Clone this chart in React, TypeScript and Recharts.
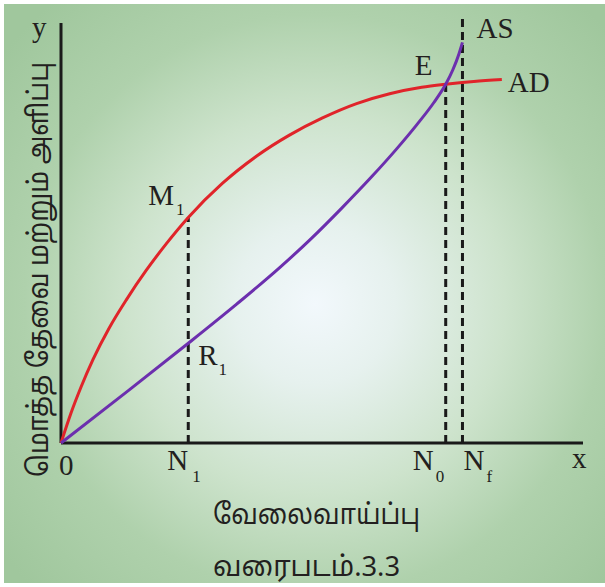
import React from "react";
import { ComposedChart, Line, XAxis, YAxis, ReferenceLine, ReferenceDot } from "recharts";

// Aggregate demand (AD) curve: employment (x) vs value (y)
const adX = [0, 1.92, 3.84, 6.14, 9.21, 12.48, 16.31, 20.15, 24.38, 30.9, 37.43, 43.76, 50.1, 56.62, 62.96, 69.1, 73.7, 79.08, 84.45];
const adY = [0, 7.14, 13.33, 19.9, 27.33, 34.02, 41.07, 47.4, 53.69, 61.79, 68.26, 73.29, 77.38, 80.79, 83.14, 84.67, 85.4, 86.07, 86.55];
// Aggregate supply (AS) curve
const asX = [0, 12.28, 24.38, 33.59, 41.84, 47.98, 53.74, 59.5, 64.3, 68.14, 71.4, 73.7, 75.05, 76.2, 76.91];
const asY = [0, 11.88, 23.74, 33.0, 41.69, 48.71, 55.86, 63.36, 70.02, 75.74, 81.0, 85.4, 88.79, 92.5, 95.36];

// Key employment levels and heights
const N1 = 24.38;
const N0 = 73.7;
const Nf = 76.91;
const M1y = 53.69;
const R1y = 23.74;
const Ey = 85.4;
const NfTop = 101.9;
const axisMax = 100;

const tickValues = [0, N1, N0, Nf];
const tickMain = ["0", "N", "N", "N"];
const tickSub = ["", "1", "0", "f"];

const adData = adX.map((x, i) => ({ x, y: adY[i] }));
const asData = asX.map((x, i) => ({ x, y: asY[i] }));

const SERIF = "'Liberation Serif', 'Times New Roman', serif";
const TAMIL = "'Noto Sans Tamil', 'Noto Sans', 'DejaVu Sans', sans-serif";
const INK = "#231f20";
const RED = "#e0242a";
const PURPLE = "#6c2fae";

const tickOffsets = [
  { dx: -2, sub: 0 },
  { dx: -21, sub: 25 },
  { dx: -33, sub: 23 },
  { dx: 1, sub: 23 },
];

const Tick = (props: any) => {
  const { x, y, index } = props;
  const o = tickOffsets[index] || { dx: 0, sub: 22 };
  const main = tickMain[index];
  const sub = tickSub[index];
  const base = main === "0" ? 32 : 27;
  return (
    <g>
      <text x={x + o.dx} y={y + base} fontFamily={SERIF} fontSize={29} fill={INK}>
        {main}
      </text>
      {sub ? (
        <text x={x + o.dx + o.sub} y={y + base + 12} fontFamily={SERIF} fontSize={17} fill={INK}>
          {sub}
        </text>
      ) : null}
    </g>
  );
};

const makeLabel = (main: string, sub: string, dx: number, dy: number, subDx = 2) => (props: any) => {
  const { cx, cy } = props;
  return (
    <text x={cx + dx} y={cy + dy} fontFamily={SERIF} fontSize={29} fill={INK}>
      {main}
      {sub ? (
        <tspan fontSize={17} dx={subDx} dy={10}>
          {sub}
        </tspan>
      ) : null}
    </text>
  );
};

export default function App() {
  return (
    <div style={{ position: "absolute", left: 0, top: 0, width: 605, height: 587, background: "#ffffff" }}>
      <div
        style={{
          position: "absolute",
          left: 4,
          top: 4,
          width: 601,
          height: 579,
          background:
            "radial-gradient(circle 430px at 311px 300px, #f2f8fc 0px, #e6f1ee 80px, #cde3cc 190px, #afd1ac 290px, #a0c79d 400px)",
        }}
      />
      <div style={{ position: "absolute", left: 0, top: 0 }}>
        <ComposedChart width={605} height={587} margin={{ top: 12, right: 22, left: 61, bottom: 104 }}>
          <XAxis
            type="number"
            dataKey="x"
            domain={[0, 100]}
            ticks={tickValues}
            interval={0}
            height={40}
            axisLine={false}
            tickLine={false}
            tickSize={0}
            tickMargin={0}
            tick={<Tick />}
          />
          <YAxis type="number" dataKey="y" domain={[0, 102.6]} hide />
          <ReferenceLine segment={[{ x: 0, y: 0 }, { x: 100, y: 0 }]} stroke="#1a1a1a" strokeWidth={3} />
          <ReferenceLine segment={[{ x: 0, y: 0 }, { x: 0, y: axisMax }]} stroke="#1a1a1a" strokeWidth={3} />
          <ReferenceLine segment={[{ x: N1, y: 0 }, { x: N1, y: M1y }]} stroke="#1a1a1a" strokeWidth={3} strokeDasharray="8 5" />
          <ReferenceLine segment={[{ x: N0, y: 0 }, { x: N0, y: Ey }]} stroke="#1a1a1a" strokeWidth={3} strokeDasharray="8 5" />
          <ReferenceLine segment={[{ x: Nf, y: 0 }, { x: Nf, y: NfTop }]} stroke="#1a1a1a" strokeWidth={3} strokeDasharray="8 5" />
          <Line data={adData} dataKey="y" type="monotone" stroke={RED} strokeWidth={3} dot={false} isAnimationActive={false} />
          <Line data={asData} dataKey="y" type="monotone" stroke={PURPLE} strokeWidth={3} dot={false} isAnimationActive={false} />
          <ReferenceDot x={N1} y={M1y} r={0} shape={makeLabel("M", "1", -40, -12)} />
          <ReferenceDot x={N1} y={R1y} r={0} shape={makeLabel("R", "1", 10, 22, 1)} />
          <ReferenceDot x={N0} y={Ey} r={0} shape={makeLabel("E", "", -31, -9)} />
          <ReferenceDot x={asX[asX.length - 1]} y={asY[asY.length - 1]} r={0} shape={makeLabel("AS", "", 14, -4)} />
          <ReferenceDot x={adX[adX.length - 1]} y={adY[adY.length - 1]} r={0} shape={makeLabel("AD", "", 6, 13)} />
        </ComposedChart>
      </div>
      <svg width={605} height={587} style={{ position: "absolute", left: 0, top: 0, pointerEvents: "none" }}>
        <text x={32} y={37} fontFamily={SERIF} fontSize={29} fill={INK}>y</text>
        <text x={572} y={468} fontFamily={SERIF} fontSize={29} fill={INK}>x</text>
        <text
          transform="translate(48, 477) rotate(-90)"
          fontFamily={TAMIL}
          fontSize={28}
          fill={INK}
          textLength={415}
          lengthAdjust="spacingAndGlyphs"
        >
          மொத்த தேவை மற்றும் அளிப்பு
        </text>
        <text x={213} y={524} fontFamily={TAMIL} fontSize={28} fill={INK} textLength={207} lengthAdjust="spacingAndGlyphs">
          வேலைவாய்ப்பு
        </text>
        <text x={213} y={576} fontFamily={TAMIL} fontSize={28} fill={INK} textLength={187} lengthAdjust="spacingAndGlyphs">
          வரைபடம்.3.3
        </text>
      </svg>
    </div>
  );
}
